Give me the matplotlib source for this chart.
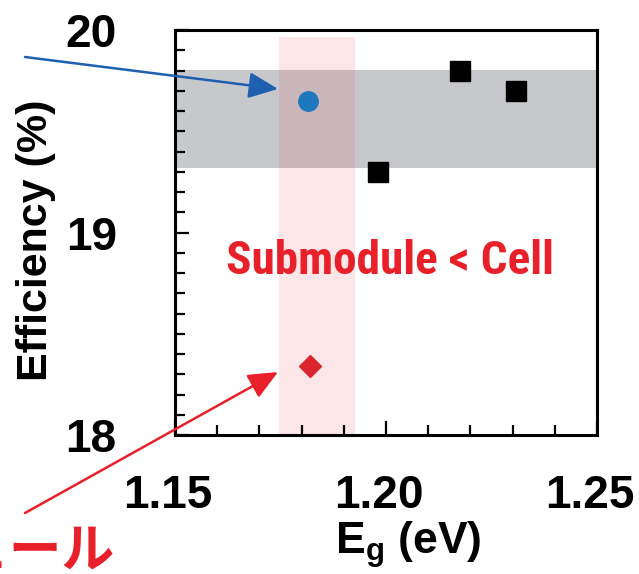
import os
import matplotlib
matplotlib.use("Agg")
import matplotlib.pyplot as plt
from matplotlib.ticker import MultipleLocator
from matplotlib import font_manager
from matplotlib.font_manager import FontProperties
from matplotlib.transforms import ScaledTranslation

plt.rcParams['font.family'] = ['Liberation Sans', 'DejaVu Sans']
plt.rcParams['mathtext.fontset'] = 'custom'
plt.rcParams['mathtext.bf'] = 'Liberation Sans:bold'
plt.rcParams['mathtext.rm'] = 'Liberation Sans'

# ---- data ----
cell_x = [1.1816]
cell_y = [19.65]
other_x = [1.198, 1.2175, 1.2308]
other_y = [19.30, 19.80, 19.70]
sub_x = [1.182]
sub_y = [18.34]
gray_band = [19.32, 19.80]
pink_band_x = [1.1747, 1.1927]
pink_band_top = 19.965
xlim = [1.15, 1.25]
ylim = [18, 20]
xticks = [1.15, 1.20, 1.25]
xticklabels = ['1.15', '1.20', '1.25']
yticks = [18, 19, 20]
yticklabels = ['18', '19', '20']

# find a condensed bold font file if available
cond_file = None
files = [f.fname for f in font_manager.fontManager.ttflist]
prefs = ['liberationsansnarrow-bold', 'arialnarrow', 'robotocondensed-bold',
         'roboto_condensed-bold', 'opensanscondensed-bold', 'opensans_condensed-bold',
         'notosans-condensedbold', 'dejavusanscondensed-bold']
low = [(os.path.basename(p).lower().replace(' ', ''), p) for p in files]
for pref in prefs:
    for b, p in low:
        if pref in b and 'italic' not in b and 'oblique' not in b:
            cond_file = p
            break
    if cond_file:
        break
if cond_file is None:
    for b, p in low:
        if ('narrow' in b or 'condensed' in b) and 'bold' in b and 'italic' not in b \
                and 'oblique' not in b and 'semibold' not in b and 'extrabold' not in b:
            cond_file = p
            break

W, H = 639, 574
fig = plt.figure(figsize=(W / 100, H / 100), dpi=100)
ax = fig.add_axes([175 / W, 1 - 435 / H, (597 - 175) / W, (435 - 30) / H])

ax.axhspan(gray_band[0], gray_band[1], color='#c7c8cc', zorder=0, lw=0)
ax.axvspan(pink_band_x[0], pink_band_x[1], ymin=0,
           ymax=(pink_band_top - ylim[0]) / (ylim[1] - ylim[0]),
           color='#e8202a', alpha=0.11, zorder=1, lw=0)

ax.plot(other_x, other_y, 's', color='black', ms=15, zorder=3)
ax.plot(cell_x, cell_y, 'o', color='#1f78bd', ms=14, zorder=3)
ax.plot(sub_x, sub_y, 'D', color='#d9262e', ms=11, zorder=3)

ax.set_xlim(*xlim)
ax.set_ylim(*ylim)
ax.set_xticks(xticks)
ax.set_xticklabels(xticklabels)
ax.set_yticks(yticks)
ax.set_yticklabels(yticklabels)
ax.xaxis.set_minor_locator(MultipleLocator(0.01))
ax.yaxis.set_minor_locator(MultipleLocator(0.1))
ax.tick_params(axis='both', which='both', direction='in', top=False, right=False, width=1.6)
ax.tick_params(axis='both', which='major', length=10)
ax.tick_params(axis='both', which='minor', length=7)
ax.tick_params(axis='x', which='major', pad=28, labelsize=33)
ax.tick_params(axis='y', which='major', pad=42, labelsize=33)
for lab in ax.get_xticklabels() + ax.get_yticklabels():
    lab.set_fontweight('bold')
shift = ScaledTranslation(-7 / 100, 0, fig.dpi_scale_trans)
for lab in ax.get_xticklabels():
    lab.set_transform(lab.get_transform() + shift)
for s in ax.spines.values():
    s.set_linewidth(2.2)

ax.set_ylabel('Efficiency (%)', fontsize=31, fontweight='bold')
ax.yaxis.label.set_va('center')
ax.yaxis.set_label_coords(-0.33, 0.482)
ax.set_xlabel(r'$\mathbf{E}_\mathbf{g}$ (eV)', fontsize=32, fontweight='bold')
ax.xaxis.label.set_va('center')
ax.xaxis.set_label_coords(0.553, -0.27)

if cond_file is not None:
    prop = FontProperties(fname=cond_file, size=34)
else:
    prop = FontProperties(family='Liberation Sans', weight='bold', size=28)
ax.text(1.2009, 18.86, 'Submodule < Cell', color='#e8202a',
        fontproperties=prop, ha='center', va='center', zorder=4)

ax.annotate('', xy=(1.1744, 19.709), xycoords='data',
            xytext=(25, H - 57), textcoords='figure pixels',
            arrowprops=dict(arrowstyle='-|>,head_length=0.9,head_width=0.4',
                            color='#1f5fb0', lw=1.8, mutation_scale=20,
                            shrinkA=0, shrinkB=0),
            annotation_clip=False, zorder=5)
ax.annotate('', xy=(1.1744, 18.311), xycoords='data',
            xytext=(25, H - 513), textcoords='figure pixels',
            arrowprops=dict(arrowstyle='-|>,head_length=0.9,head_width=0.4',
                            color='#e8202a', lw=1.8, mutation_scale=20,
                            shrinkA=0, shrinkB=0),
            annotation_clip=False, zorder=5)

fig.text(115 / W, 1 - 551 / H, 'サブモジュール', color='#e8202a', fontsize=38,
         fontweight='bold', family=['Noto Sans CJK JP', 'DejaVu Sans'],
         ha='right', va='center')

fig.savefig('out.png', dpi=100)
